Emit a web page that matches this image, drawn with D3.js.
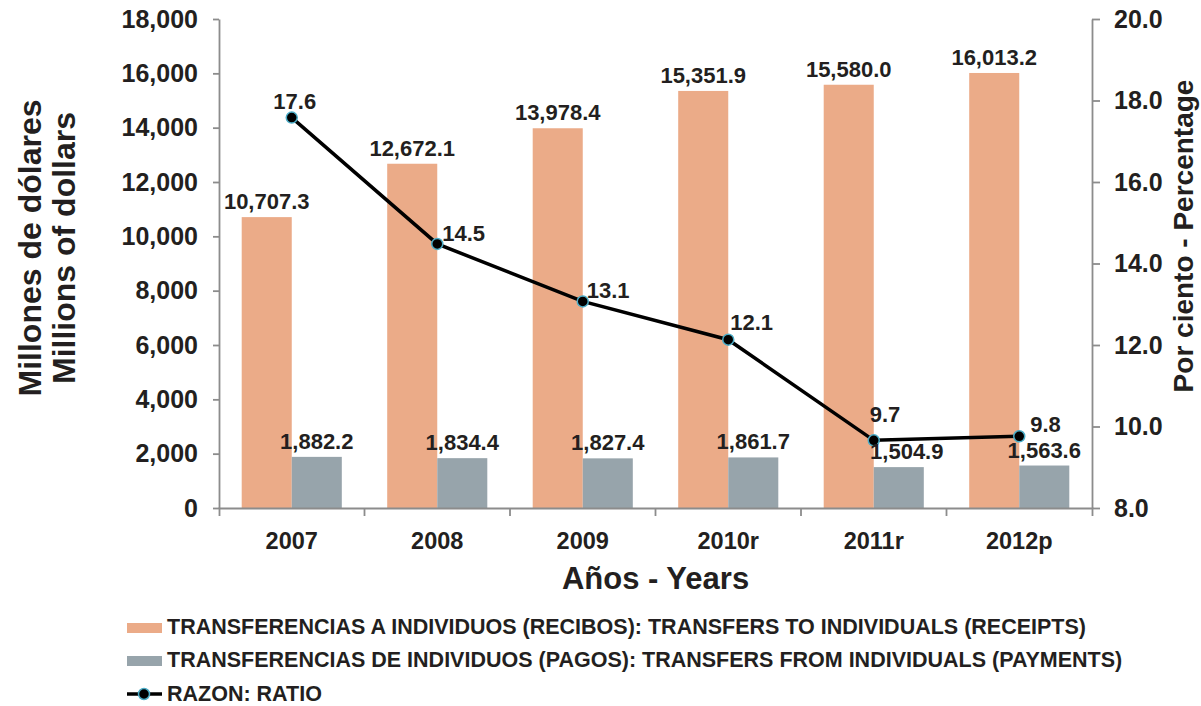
<!DOCTYPE html>
<html>
<head>
<meta charset="utf-8">
<script src="https://cdn.jsdelivr.net/npm/d3@7"></script>
<style>
  html, body { margin: 0; padding: 0; background: #fff; }
  svg text { font-family: "Liberation Sans", Arial, Helvetica, sans-serif; font-weight: bold; fill: #231f20; }
</style>
</head>
<body>
<svg id="chart" width="1201" height="706"></svg>
<script>
// ---------- data ----------
const categories = ["2007", "2008", "2009", "2010r", "2011r", "2012p"];
const receipts = [10707.3, 12672.1, 13978.4, 15351.9, 15580.0, 16013.2];
const payments = [1882.2, 1834.4, 1827.4, 1861.7, 1504.9, 1563.6];
const ratio = [17.58, 14.48, 13.07, 12.13, 9.66, 9.76];
const leftTicks = [0, 2000, 4000, 6000, 8000, 10000, 12000, 14000, 16000, 18000];
const rightTicks = [8, 10, 12, 14, 16, 18, 20];
const legendLabels = [
  "TRANSFERENCIAS A INDIVIDUOS (RECIBOS): TRANSFERS TO INDIVIDUALS (RECEIPTS)",
  "TRANSFERENCIAS DE INDIVIDUOS (PAGOS): TRANSFERS FROM INDIVIDUALS (PAYMENTS)",
  "RAZON: RATIO"
];

// ---------- layout ----------
const plot = { left: 219, right: 1092, top: 19, bottom: 508 };
const colors = { receipts: "#ebab88", payments: "#97a4ab", line: "#000", marker: "#4bacc6", axis: "#8c8c8c" };
// ratio label offsets [dx, dy, anchor]
const ratioLabelPos = [[3, -9, "middle"], [5, -3, "start"], [4, -3, "start"], [2, -10, "start"], [-4, -18, "start"], [11, -4, "start"]];
const paymentLabelDx = [0, 0, 0, 0, 8, 0];

const svg = d3.select("#chart");

const x = d3.scaleBand().domain(categories).range([plot.left, plot.right]).padding(0);
const y = d3.scaleLinear().domain([0, 18000]).range([plot.bottom, plot.top]);
const y2 = d3.scaleLinear().domain([8, 20]).range([plot.bottom, plot.top]);
const barW = x.bandwidth() * 0.344;
const cx = c => x(c) + x.bandwidth() / 2;

// bars
svg.append("g").selectAll("rect").data(categories).join("rect")
  .attr("x", c => cx(c) - barW).attr("width", barW)
  .attr("y", (c, i) => y(receipts[i])).attr("height", (c, i) => plot.bottom - y(receipts[i]))
  .attr("fill", colors.receipts);
svg.append("g").selectAll("rect").data(categories).join("rect")
  .attr("x", c => cx(c)).attr("width", barW)
  .attr("y", (c, i) => y(payments[i])).attr("height", (c, i) => plot.bottom - y(payments[i]))
  .attr("fill", colors.payments);

const fmt1 = d3.format(",.1f");

// left axis
const gL = svg.append("g").attr("transform", `translate(${plot.left},0)`)
  .call(d3.axisLeft(y).tickValues(leftTicks).tickFormat(d3.format(",")).tickSize(6).tickSizeOuter(0).tickPadding(15));
// right axis
const gR = svg.append("g").attr("transform", `translate(${plot.right},0)`)
  .call(d3.axisRight(y2).tickValues(rightTicks).tickFormat(d3.format(".1f")).tickSize(8).tickSizeOuter(0).tickPadding(14));
// bottom axis
const gB = svg.append("g").attr("transform", `translate(0,${plot.bottom})`)
  .call(d3.axisBottom(x).tickSize(0).tickSizeOuter(8).tickFormat(""));
[gL, gR, gB].forEach(g => {
  g.selectAll("path, line").attr("stroke", colors.axis).attr("stroke-width", 1.8);
  g.selectAll("text").style("font-size", "25px").attr("fill", "#231f20");
});
// category boundary ticks
svg.append("g").selectAll("line").data(categories.slice(1)).join("line")
  .attr("x1", c => x(c)).attr("x2", c => x(c))
  .attr("y1", plot.bottom).attr("y2", plot.bottom + 8)
  .attr("stroke", colors.axis).attr("stroke-width", 1.8);
// category labels
svg.append("g").selectAll("text").data(categories).join("text")
  .attr("x", c => cx(c)).attr("y", 549).attr("text-anchor", "middle")
  .style("font-size", "23.5px").text(c => c);

// line
const line = d3.line().x((d, i) => cx(categories[i])).y(d => y2(d));
svg.append("path").datum(ratio).attr("d", line)
  .attr("fill", "none").attr("stroke", colors.line).attr("stroke-width", 3.5);
svg.append("g").selectAll("circle").data(ratio).join("circle")
  .attr("cx", (d, i) => cx(categories[i])).attr("cy", d => y2(d)).attr("r", 5.5)
  .attr("fill", "#000").attr("stroke", colors.marker).attr("stroke-width", 1.5);

// data labels
svg.append("g").selectAll("text").data(receipts).join("text")
  .attr("x", (d, i) => cx(categories[i]) - barW / 2).attr("y", d => y(d) - 8)
  .attr("text-anchor", "middle").style("font-size", "22px").text(d => fmt1(d));
svg.append("g").selectAll("text").data(payments).join("text")
  .attr("x", (d, i) => cx(categories[i]) + barW / 2 + paymentLabelDx[i]).attr("y", d => y(d) - 8)
  .attr("text-anchor", "middle").style("font-size", "22px").text(d => fmt1(d));
svg.append("g").selectAll("text").data(ratio).join("text")
  .attr("x", (d, i) => cx(categories[i]) + ratioLabelPos[i][0])
  .attr("y", d => y2(d)).attr("dy", (d, i) => ratioLabelPos[i][1])
  .attr("text-anchor", (d, i) => ratioLabelPos[i][2])
  .style("font-size", "22px").text(d => d3.format(".1f")(d));

// axis titles
svg.append("text").attr("x", (plot.left + plot.right) / 2).attr("y", 589).attr("text-anchor", "middle")
  .style("font-size", "31px").text("Años - Years");
svg.append("text").attr("transform", "translate(41,248) rotate(-90)").attr("text-anchor", "middle")
  .style("font-size", "32px").text("Millones de dólares");
svg.append("text").attr("transform", "translate(75,248) rotate(-90)").attr("text-anchor", "middle")
  .style("font-size", "32px").text("Millions of dollars");
svg.append("text").attr("transform", "translate(1193,236) rotate(-90)").attr("text-anchor", "middle")
  .style("font-size", "28px").text("Por ciento - Percentage");

// legend
const leg = svg.append("g");
const legY = [634, 667, 701];
leg.append("rect").attr("x", 127).attr("y", legY[0] - 11).attr("width", 35).attr("height", 10).attr("fill", colors.receipts);
leg.append("rect").attr("x", 127).attr("y", legY[1] - 11).attr("width", 35).attr("height", 10).attr("fill", colors.payments);
leg.append("line").attr("x1", 127).attr("x2", 162).attr("y1", legY[2] - 7).attr("y2", legY[2] - 7)
  .attr("stroke", "#000").attr("stroke-width", 3.5);
leg.append("circle").attr("cx", 144).attr("cy", legY[2] - 7).attr("r", 5.5)
  .attr("fill", "#000").attr("stroke", colors.marker).attr("stroke-width", 1.5);
leg.selectAll("text.l").data(legendLabels).join("text").attr("class", "l")
  .attr("x", 167).attr("y", (d, i) => legY[i]).style("font-size", "21.5px").text(d => d);
</script>
</body>
</html>
